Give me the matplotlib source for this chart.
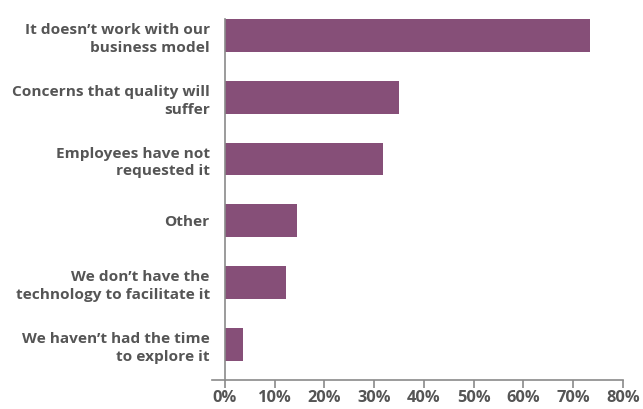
import matplotlib
matplotlib.use("Agg")
import matplotlib.pyplot as plt
from matplotlib.ticker import FuncFormatter

categories = [
    "It doesn\u2019t work with our\nbusiness model",
    "Concerns that quality will\nsuffer",
    "Employees have not\nrequested it",
    "Other",
    "We don\u2019t have the\ntechnology to facilitate it",
    "We haven\u2019t had the time\nto explore it",
]
values = [73.4, 35.0, 31.8, 14.5, 12.3, 3.6]
xticks = [0, 10, 20, 30, 40, 50, 60, 70, 80]

plt.rcParams['font.family'] = ['Open Sans', 'DejaVu Sans']
plt.rcParams['font.weight'] = 'bold'
text_color = "#555555"
bar_color = "#864F78"
axis_color = "#8a8a8a"

fig = plt.figure(figsize=(6.43, 4.09), dpi=100)
ax = fig.add_axes([212/643, 1-380/409, (623-212)/643, (380-19)/409])

ypos = list(range(len(categories)))
ax.barh(ypos, values, height=0.53, color=bar_color, zorder=2)

ax.set_ylim(5.58, -0.27)
ax.set_xlim(-2.6, 80)
ax.set_xticks(xticks)
ax.xaxis.set_major_formatter(FuncFormatter(lambda v, p: f"{int(v)}%"))
ax.set_yticks(ypos)
ax.set_yticklabels(categories)

ax.spines['left'].set_position(('data', 0))
for s in ['top', 'right']:
    ax.spines[s].set_visible(False)
for s in ['left', 'bottom']:
    ax.spines[s].set_color(axis_color)
    ax.spines[s].set_linewidth(1.2)
ax.spines['left'].set_zorder(3)

ax.tick_params(axis='y', length=0, pad=11, labelcolor=text_color, labelsize=11.1)
ax.tick_params(axis='x', length=6, width=1.2, color=axis_color, pad=1.0,
               labelcolor=text_color, labelsize=11.8)
for lab in ax.get_yticklabels():
    lab.set_fontweight('bold')
    lab.set_linespacing(1.35)
for lab in ax.get_xticklabels():
    lab.set_fontweight('bold')

fig.savefig("out.png", dpi=100)
